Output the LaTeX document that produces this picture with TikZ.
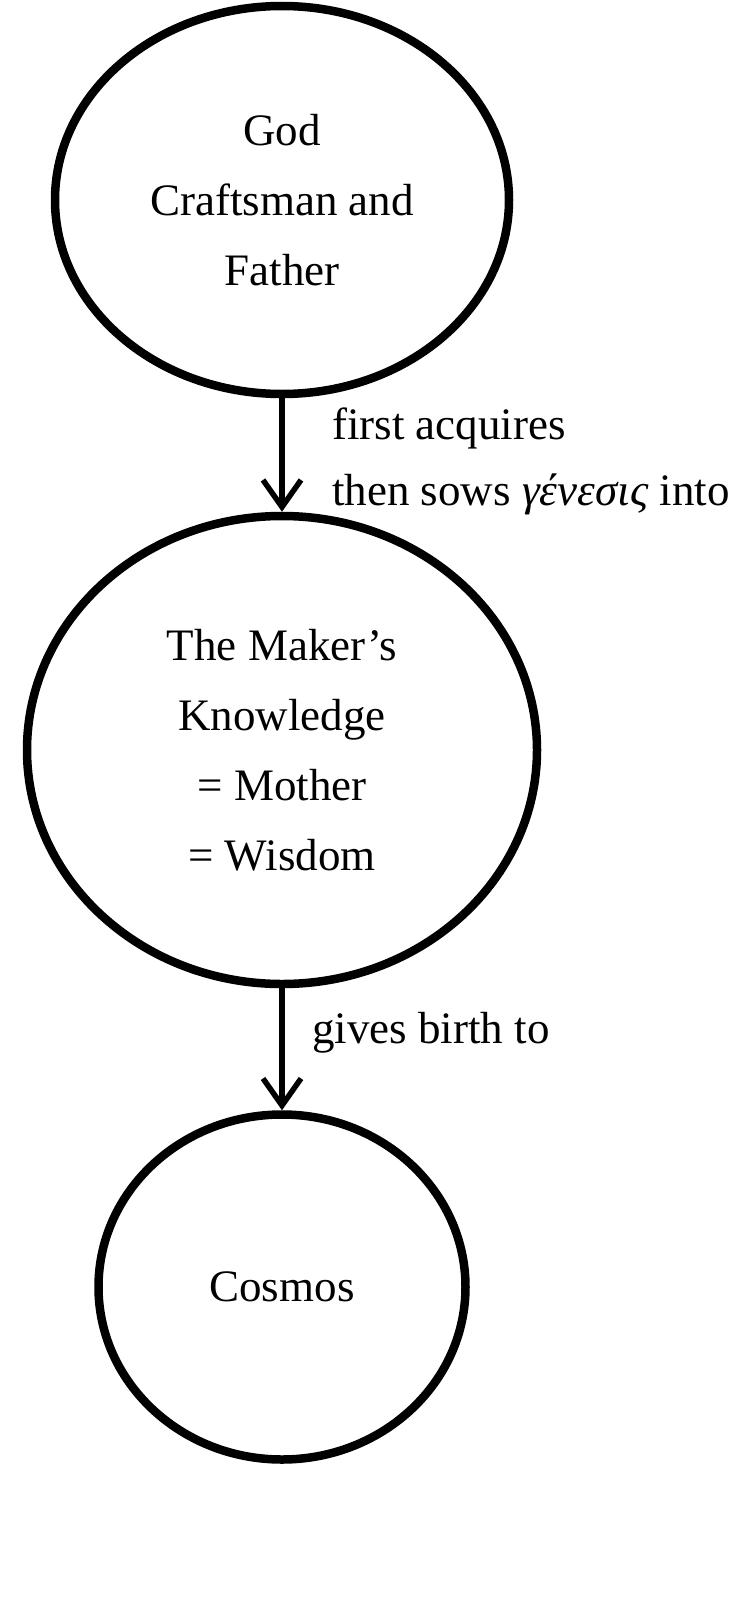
\documentclass[tikz,border=0pt]{standalone}
\usepackage{fontspec}
\setmainfont{Liberation Serif}
\usetikzlibrary{shapes.geometric,arrows.meta}
\begin{document}
\begin{tikzpicture}[x=1pt,y=-1pt,
  blob/.style={draw=black,line width=8.5pt,ellipse,inner sep=0pt,align=center,
    font=\fontsize{45}{70}\selectfont},
  conn/.style={line width=5.5pt,-{Straight Barb[length=27pt,width=38pt,line width=5.5pt]}},
  lbl/.style={anchor=base west,inner sep=0pt,font=\fontsize{45}{66}\selectfont}]
\useasboundingbox (0,0) rectangle (736,1611);
\clip (0,0) rectangle (736,1611);
\fill[white] (0,0) rectangle (736,1611);
\node[blob,minimum width=454pt,minimum height=388pt] (god) at (282,200) {God\\Craftsman and\\Father};
\node[blob,minimum width=510pt,minimum height=468pt] (maker) at (282,750) {The Maker’s\\Knowledge\\= Mother\\= Wisdom};
\node[blob,minimum width=367pt,minimum height=345pt] (cosmos) at (282,1287) {Cosmos};
\draw[conn] (god.south) -- (maker.north);
\draw[conn] (maker.south) -- (cosmos.north);
\node[lbl] (l1) at (332,439) {first acquires};
\node[lbl] (l2) at (332,505) {then sows {\itshape γένεσις} into};
\node[lbl] (l3) at (312,1043) {gives birth to};
\end{tikzpicture}
\end{document}
